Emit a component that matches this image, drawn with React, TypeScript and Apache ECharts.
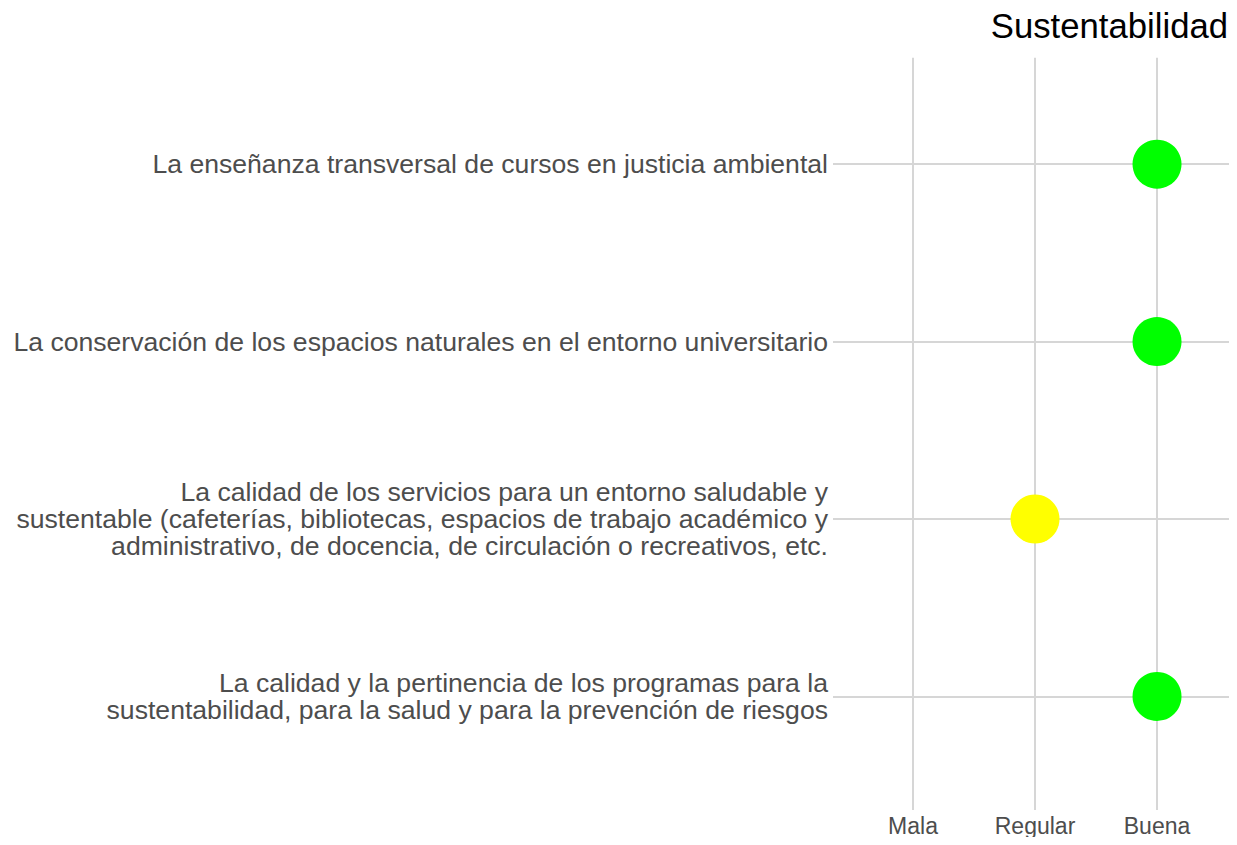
import React, { useEffect, useRef } from "react";
import * as echarts from "echarts";

const title = "Sustentabilidad";
const levels = ["Mala", "Regular", "Buena"];
const items = [
  "La enseñanza transversal de cursos en justicia ambiental",
  "La conservación de los espacios naturales en el entorno universitario",
  "La calidad de los servicios para un entorno saludable y\nsustentable (cafeterías, bibliotecas, espacios de trabajo académico y\nadministrativo, de docencia, de circulación o recreativos, etc.",
  "La calidad y la pertinencia de los programas para la\nsustentabilidad, para la salud y para la prevención de riesgos",
];
const ratings = ["Buena", "Buena", "Regular", "Buena"];
const ratingColors: Record<string, string> = { Mala: "#ff0000", Regular: "#ffff00", Buena: "#00ff00" };

export default function App() {
  const ref = useRef<HTMLDivElement>(null);
  useEffect(() => {
    if (!ref.current) return;
    const chart = echarts.init(ref.current, undefined, { renderer: "svg" });
    const n = items.length;
    const yOf = (i: number) => n - i;
    const gridColor = "#d6d6d6";
    chart.setOption({
      animation: false,
      title: {
        text: title,
        right: 1,
        top: 0,
        padding: 0,
        textStyle: { fontFamily: "Liberation Sans", fontSize: 34.7, fontWeight: "normal", color: "#000" },
      },
      grid: { left: 825, right: 0, top: 49.7, bottom: 21 },
      xAxis: {
        type: "value",
        min: 0.344,
        max: 3.59,
        axisLine: { show: false },
        axisTick: { show: false },
        splitLine: { show: false },
        axisLabel: {
          customValues: [1, 2, 3],
          formatter: (v: number) => levels[Math.round(v) - 1] ?? "",
          fontFamily: "Liberation Sans",
          fontSize: 23,
          color: "#4d4d4d",
          margin: 4,
        },
      },
      yAxis: {
        type: "value",
        min: 0.36,
        max: 4.6,
        axisLine: { show: false },
        axisTick: { show: false },
        splitLine: { show: false },
        axisLabel: {
          customValues: [1, 2, 3, 4],
          formatter: (v: number) => items[n - Math.round(v)] ?? "",
          fontFamily: "Liberation Sans",
          fontSize: 26.6,
          lineHeight: 27,
          color: "#4d4d4d",
          align: "right",
          margin: 5,
        },
      },
      series: [
        {
          type: "line",
          data: [],
          z: 1,
          markLine: {
            silent: true,
            z: 1,
            symbol: "none",
            label: { show: false },
            lineStyle: { color: gridColor, width: 2, type: "solid" },
            data: [
              ...levels.map((_, i) => ({ xAxis: i + 1 })),
              ...items.map((_, i) => ({ yAxis: yOf(i) })),
            ],
          },
        },
        {
          type: "scatter",
          z: 10,
          symbolSize: 49,
          data: ratings.map((r, i) => ({
            value: [levels.indexOf(r) + 1, yOf(i)],
            itemStyle: { color: ratingColors[r], opacity: 1 },
          })),
        },
      ],
    });
    return () => chart.dispose();
  }, []);
  return <div ref={ref} style={{ width: 1221, height: 829 }} />;
}
